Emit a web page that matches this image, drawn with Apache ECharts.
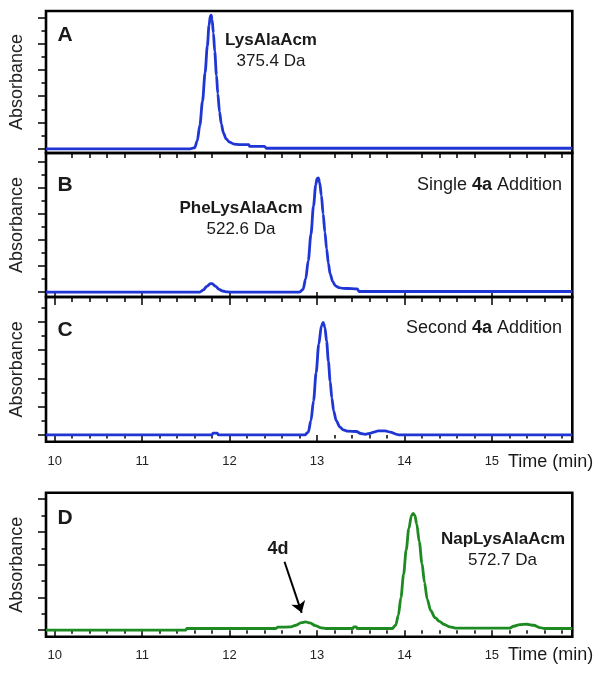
<!DOCTYPE html>
<html><head><meta charset="utf-8">
<script src="https://cdn.jsdelivr.net/npm/echarts@6/dist/echarts.min.js"></script>
<style>html,body{margin:0;padding:0;background:#fff}#c{width:604px;height:676px}</style>
</head><body><div id="c"></div>
<script>
// ---- data (time in min, absorbance in arbitrary units per panel) ----
const traceA = [[9.9,0],[11.55,0],[11.6,0.04],[11.63,0.3],[11.66,0.9],[11.69,1.8],[11.72,2.9],[11.745,3.9],[11.765,4.7],[11.78,5.05],[11.79,5.08],[11.80,4.9],[11.815,4.4],[11.83,3.7],[11.85,2.8],[11.865,2.1],[11.885,1.4],[11.905,0.95],[11.93,0.6],[11.96,0.38],[12.0,0.25],[12.05,0.18],[12.12,0.16],[12.22,0.16],[12.23,0.09],[12.4,0.09],[12.42,0.02],[15.92,0.02]];
const traceB = [[9.9,0],[11.66,0],[11.7,0.08],[11.74,0.22],[11.78,0.32],[11.8,0.32],[11.84,0.22],[11.88,0.1],[11.92,0.04],[11.96,0.01],[12.0,0],[12.8,0],[12.84,0.1],[12.87,0.5],[12.9,1.2],[12.93,2.2],[12.96,3.3],[12.985,4.1],[13.0,4.35],[13.015,4.38],[13.03,4.2],[13.05,3.7],[13.07,3.0],[13.09,2.3],[13.11,1.65],[13.13,1.1],[13.15,0.7],[13.18,0.4],[13.21,0.24],[13.25,0.17],[13.3,0.14],[13.4,0.13],[13.46,0.12],[13.48,0.02],[15.92,0.02]];
const traceC = [[9.9,0],[11.8,0],[11.81,0.06],[11.86,0.06],[11.87,0],[12.86,0],[12.9,0.1],[12.93,0.5],[12.96,1.2],[12.99,2.2],[13.02,3.2],[13.05,3.85],[13.07,3.97],[13.09,3.8],[13.11,3.3],[13.13,2.6],[13.15,1.9],[13.17,1.3],[13.19,0.85],[13.22,0.5],[13.26,0.28],[13.3,0.18],[13.35,0.13],[13.45,0.12],[13.5,0.05],[13.55,0.02],[13.6,0.05],[13.65,0.1],[13.7,0.14],[13.78,0.14],[13.84,0.1],[13.9,0.03],[13.94,0],[15.92,0]];
const traceD = [[9.9,0],[11.5,0],[11.51,0.05],[12.53,0.05],[12.55,0.09],[12.7,0.1],[12.76,0.15],[12.82,0.23],[12.87,0.25],[12.92,0.22],[12.98,0.14],[13.05,0.07],[13.1,0.05],[13.41,0.05],[13.42,0.1],[13.45,0.1],[13.46,0.05],[13.86,0.05],[13.9,0.15],[13.93,0.45],[13.96,1.0],[13.99,1.7],[14.02,2.45],[14.05,3.1],[14.08,3.5],[14.1,3.57],[14.12,3.5],[14.14,3.25],[14.17,2.7],[14.2,2.05],[14.23,1.45],[14.26,0.95],[14.3,0.6],[14.35,0.38],[14.4,0.27],[14.45,0.18],[14.52,0.1],[14.6,0.06],[15.2,0.06],[15.25,0.12],[15.32,0.17],[15.4,0.18],[15.48,0.15],[15.55,0.08],[15.6,0.05],[15.92,0.05]];
const arrow4d = [[12.628,2.09],[12.825,0.53]];

const xMajorTicks = [10,11,12,13,14,15];
const xMinorTicks = [10.2,10.4,10.6,10.8,11.2,11.4,11.6,11.8,12.2,12.4,12.6,12.8,13.2,13.4,13.6,13.8,14.2,14.4,14.6,14.8,15.2,15.4,15.6,15.8];
const xTickLabels = ['10','11','12','13','14','15'];
const yMajorA = [0,1,2,3,4,5], yMinorA = [0.5,1.5,2.5,3.5,4.5];
const yMajorB = [0,1,2,3,4,5], yMinorB = [0.5,1.5,2.5,3.5,4.5];
const yMajorC = [0,1,2,3,4],   yMinorC = [0.5,1.5,2.5,3.5,4.5];
const yMajorD = [0,1,2,3,4],   yMinorD = [0.5,1.5,2.5,3.5];

const X_MIN = 9.9, X_MAX = 15.92;
const BLUE = '#1f36d4', GREEN = '#1e8a22';
const FONT = '"Liberation Sans", Arial, sans-serif';

const panels = [
  {data:traceA, color:BLUE, top:11, height:142, yMin:-0.16, yMax:5.24, yMajor:yMajorA, yMinor:yMinorA, topTicks:false, labels:false},
  {data:traceB, color:BLUE, top:153, height:144, yMin:-0.19, yMax:5.33, yMajor:yMajorB, yMinor:yMinorB, topTicks:true, labels:false},
  {data:traceC, color:BLUE, top:297, height:144.7, yMin:-0.24, yMax:4.87, yMajor:yMajorC, yMinor:yMinorC, topTicks:true, labels:true, margin:13},
  {data:traceD, color:GREEN, top:492.7, height:144, yMin:-0.2, yMax:4.2, yMajor:yMajorD, yMinor:yMinorD, topTicks:false, labels:true, margin:12}
];

const grid = [], xAxis = [], yAxis = [], series = [];
const tickStyle = {color:'#000', width:1.5};
panels.forEach((p, g) => {
  grid.push({left:42.3, right:31.7, top:p.top, height:p.height, show:true, borderColor:'#000', borderWidth:2.6, backgroundColor:'transparent'});
  const base = {gridIndex:g, type:'value', min:X_MIN, max:X_MAX, splitLine:{show:false}, axisLine:{show:false}};
  const mainX = xAxis.length;
  xAxis.push(Object.assign({}, base, {position:'bottom',
    axisTick: p.labels ? {show:true, customValues:xMajorTicks, length:6, lineStyle:tickStyle} : {show:false},
    axisLabel: p.labels ? {show:true, customValues:xMajorTicks, margin:p.margin, fontSize:13, color:'#222', fontFamily:FONT,
      formatter: v => xTickLabels[xMajorTicks.indexOf(Math.round(v))]} : {show:false}
  }));
  if (p.labels) {
    xAxis.push(Object.assign({}, base, {position:'bottom', axisTick:{show:true, customValues:xMinorTicks, length:3.5, lineStyle:tickStyle}, axisLabel:{show:false}}));
  }
  if (p.topTicks) {
    xAxis.push(Object.assign({}, base, {position:'top', axisTick:{show:true, inside:true, customValues:xMajorTicks, length:8, lineStyle:tickStyle}, axisLabel:{show:false}}));
    xAxis.push(Object.assign({}, base, {position:'top', axisTick:{show:true, inside:true, customValues:xMinorTicks, length:5, lineStyle:tickStyle}, axisLabel:{show:false}}));
  }
  const yb = {gridIndex:g, type:'value', min:p.yMin, max:p.yMax, position:'left', splitLine:{show:false}, axisLine:{show:false}, axisLabel:{show:false}};
  const mainY = yAxis.length;
  yAxis.push(Object.assign({}, yb, {axisTick:{show:true, customValues:p.yMajor, length:8, lineStyle:tickStyle},
    name:'Absorbance', nameLocation:'middle', nameGap:20, nameTextStyle:{fontSize:18, color:'#222', fontFamily:FONT}}));
  yAxis.push(Object.assign({}, yb, {axisTick:{show:true, customValues:p.yMinor, length:4.5, lineStyle:tickStyle}}));
  const s = {type:'line', xAxisIndex:mainX, yAxisIndex:mainY, data:p.data, showSymbol:false, silent:true,
    smooth:0.3, smoothMonotone:'x', lineStyle:{color:p.color, width:2.8}, z:3};
  if (g === 3) {
    s.markLine = {silent:true, symbol:['none','arrow'], symbolSize:11, label:{show:false},
      lineStyle:{color:'#000', width:2, type:'solid'},
      data:[[{coord:arrow4d[0]},{coord:arrow4d[1]}]]};
  }
  series.push(s);
});

function txt(x, y, text, size, bold, align) {
  return {type:'text', x:x, y:y, z:10, style:{text:text, fill:'#1a1a1a', font:(bold?'bold ':'')+size+'px '+FONT,
    textAlign:align||'center', textVerticalAlign:'middle'}};
}
function rich(x, y, pre, b, post, size) {
  return {type:'text', x:x, y:y, z:10, style:{text:'{n|'+pre+'}{b|'+b+'}{n|'+post+'}', textAlign:'right', textVerticalAlign:'middle',
    rich:{n:{fontSize:size, fontFamily:FONT, fill:'#1a1a1a'}, b:{fontSize:size, fontFamily:FONT, fontWeight:'bold', fill:'#1a1a1a'}}}};
}
const graphic = [
  txt(65, 35.5, 'A', 21, true), txt(65, 185, 'B', 21, true), txt(65, 330, 'C', 21, true), txt(65, 518, 'D', 21, true),
  txt(271, 40, 'LysAlaAcm', 17, true), txt(271, 61.7, '375.4 Da', 17, false),
  txt(241, 208.3, 'PheLysAlaAcm', 17, true), txt(241, 229.3, '522.6 Da', 17, false),
  rich(562, 185, 'Single ', '4a', ' Addition', 18), rich(562, 328.3, 'Second ', '4a', ' Addition', 18),
  txt(278, 549.3, '4d', 18, true),
  txt(503, 539.3, 'NapLysAlaAcm', 17, true), txt(502.5, 560.7, '572.7 Da', 17, false),
  txt(508, 462, 'Time (min)', 18, false, 'left'), txt(508, 655, 'Time (min)', 18, false, 'left')
];

const chart = echarts.init(document.getElementById('c'), null, {renderer:'canvas'});
chart.setOption({animation:false, backgroundColor:'#fff', grid, xAxis, yAxis, series, graphic});
</script></body></html>
